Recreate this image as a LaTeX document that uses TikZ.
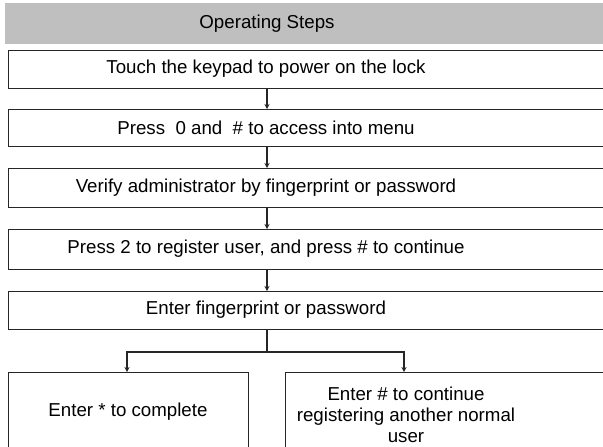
\documentclass[tikz,border=0pt]{standalone}
\usepackage{fontspec}
\setmainfont{Liberation Sans}
\usetikzlibrary{arrows.meta}
\begin{document}
\begin{tikzpicture}[x=1pt,y=1pt,
  txt/.style={font=\fontsize{18.7}{21}\selectfont, text=black, inner sep=0pt, align=center},
  boxline/.style={draw=black!85, line width=1.3pt, inner sep=0pt, anchor=north west},
  conn/.style={draw=black!85, line width=1.3pt},
  arr/.style={conn, -{Stealth[length=5pt,width=5pt]}}]
\useasboundingbox (0,0) rectangle (603,-447);
\clip (0,0) rectangle (603,-447);
% header
\node[fill=black!25, draw=none, minimum width=700pt, minimum height=41pt, anchor=north west, inner sep=0pt] (hd) at (5,-3) {};
\node[txt] (ht) at (267,-23.5) {Operating Steps};
% step boxes
\node[boxline, minimum width=700pt, minimum height=38pt] (b1) at (8,-50) {};
\node[boxline, minimum width=700pt, minimum height=37pt] (b2) at (8,-109) {};
\node[boxline, minimum width=700pt, minimum height=39pt] (b3) at (8,-168) {};
\node[boxline, minimum width=700pt, minimum height=40pt] (b4) at (8,-229) {};
\node[boxline, minimum width=700pt, minimum height=38pt] (b5) at (8,-291) {};
\node[boxline, minimum width=240pt, minimum height=100pt] (b6) at (8,-372) {};
\node[boxline, minimum width=400pt, minimum height=100pt] (b7) at (285,-372) {};
% texts
\node[txt] (t1) at (266,-69) {Touch the keypad to power on the lock};
\node[txt] (t2) at (266,-127.5) {Press\ \ 0 and\ \ \# to access into menu};
\node[txt] (t3) at (266,-187.5) {Verify administrator by fingerprint or password};
\node[txt] (t4) at (266,-249) {Press 2 to register user, and press \# to continue};
\node[txt] (t5) at (266,-310) {Enter fingerprint or password};
\node[txt] (t6) at (128,-412) {Enter * to complete};
\node[txt] (t7) at (406,-415) {Enter \# to continue\\registering another normal\\user};
% connectors
\coordinate (x) at (267,0);
\draw[arr] (b1.south -| x) -- (b2.north -| x);
\draw[arr] (b2.south -| x) -- (b3.north -| x);
\draw[arr] (b3.south -| x) -- (b4.north -| x);
\draw[arr] (b4.south -| x) -- (b5.north -| x);
\coordinate (j) at (267,-352);
\coordinate (jl) at (127,-352);
\coordinate (jr) at (404,-352);
\draw[conn] (b5.south -| x) -- (j);
\draw[arr] (j) -- (jl) -- (jl |- b6.north);
\draw[arr] (j) -- (jr) -- (jr |- b7.north);
\end{tikzpicture}
\end{document}
